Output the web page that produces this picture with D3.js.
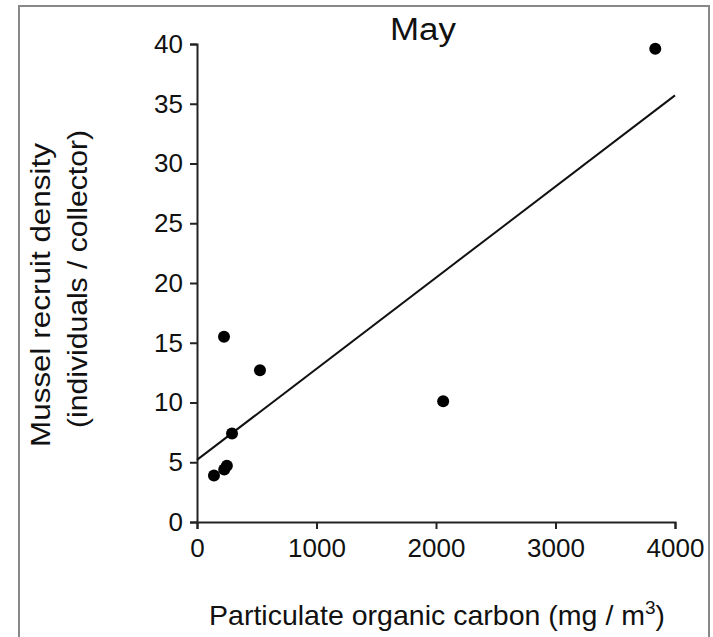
<!DOCTYPE html>
<html>
<head>
<meta charset='utf-8'>
<style>
body { margin: 0; background: #fff; }
text { font-family: 'Liberation Sans', Arial, sans-serif; fill: #111; }
.axis path, .axis line { stroke: #222; stroke-width: 2px; }
.axis text { font-size: 26px; fill: #111; font-family: 'Liberation Sans', Arial, sans-serif; }
.fit { fill: none; stroke: #111; stroke-width: 2px; }
</style>
<script src='https://d3js.org/d3.v7.min.js'></script>
</head>
<body>
<svg id='chart1' width='713' height='637'></svg>
<script>
// data
var carbon  = [226, 527, 293, 250, 228, 142, 2060, 3835];
var density = [15.5, 12.7, 7.4, 4.7, 4.4, 3.9, 10.1, 39.6];
var fitX = [0, 4000];
var fitY = [5.2, 35.7];
var xTicks = [0, 1000, 2000, 3000, 4000];
var yTicks = [0, 5, 10, 15, 20, 25, 30, 35, 40];

var svg = d3.select('#chart1');
var margin = {top: 44, left: 197, right: 38, bottom: 115};
var width = 713 - margin.left - margin.right;
var height = 637 - margin.top - margin.bottom;

// gray frame round the figure (bottom edge is cut off)
svg.append('rect')
    .attr('x', 19).attr('y', 6)
    .attr('width', 690).attr('height', 660)
    .attr('fill', 'none')
    .attr('stroke', '#888')
    .attr('stroke-width', 2);

var g = svg.append('g')
    .attr('transform', 'translate(' + margin.left + ',' + margin.top + ')');

var x = d3.scaleLinear().domain([0, 4000]).range([0, width]);
var y = d3.scaleLinear().domain([0, 40]).range([height, 0]);

g.append('g')
    .attr('class', 'axis axis--x')
    .attr('transform', 'translate(0,' + height + ')')
    .call(d3.axisBottom(x).tickValues(xTicks).tickFormat(d3.format('d'))
        .tickSize(7).tickSizeOuter(7).tickPadding(10));

g.append('g')
    .attr('class', 'axis axis--y')
    .call(d3.axisLeft(y).tickValues(yTicks).tickFormat(d3.format('d'))
        .tickSize(7).tickSizeOuter(7).tickPadding(7));

var line = d3.line()
    .x(function(d) { return x(d[0]); })
    .y(function(d) { return y(d[1]); });

g.append('path')
    .datum(d3.zip(fitX, fitY))
    .attr('class', 'fit')
    .attr('d', line);

g.selectAll('.dot')
    .data(d3.zip(carbon, density))
    .enter().append('circle')
    .attr('class', 'dot')
    .attr('cx', function(d) { return x(d[0]); })
    .attr('cy', function(d) { return y(d[1]); })
    .attr('r', 6)
    .attr('fill', '#000');

svg.append('text')
    .attr('x', 423).attr('y', 40)
    .attr('text-anchor', 'middle')
    .attr('textLength', 66)
    .attr('lengthAdjust', 'spacingAndGlyphs')
    .style('font-size', '31px')
    .text('May');

var xl = svg.append('text')
    .attr('x', 209).attr('y', 625)
    .style('font-size', '28px');
xl.append('tspan')
    .attr('textLength', 436)
    .attr('lengthAdjust', 'spacingAndGlyphs')
    .text('Particulate organic carbon (mg / m');
xl.append('tspan').attr('dy', -11).style('font-size', '19px').text('3');
xl.append('tspan').attr('dy', 11).text(')');

var yl = svg.append('g')
    .attr('transform', 'rotate(-90)');
yl.append('text')
    .attr('x', -295).attr('y', 50)
    .attr('text-anchor', 'middle')
    .attr('textLength', 304)
    .attr('lengthAdjust', 'spacingAndGlyphs')
    .style('font-size', '27px')
    .text('Mussel recruit density');
yl.append('text')
    .attr('x', -279).attr('y', 87)
    .attr('text-anchor', 'middle')
    .attr('textLength', 298)
    .attr('lengthAdjust', 'spacingAndGlyphs')
    .style('font-size', '27px')
    .text('(individuals / collector)');
</script>
</body>
</html>
